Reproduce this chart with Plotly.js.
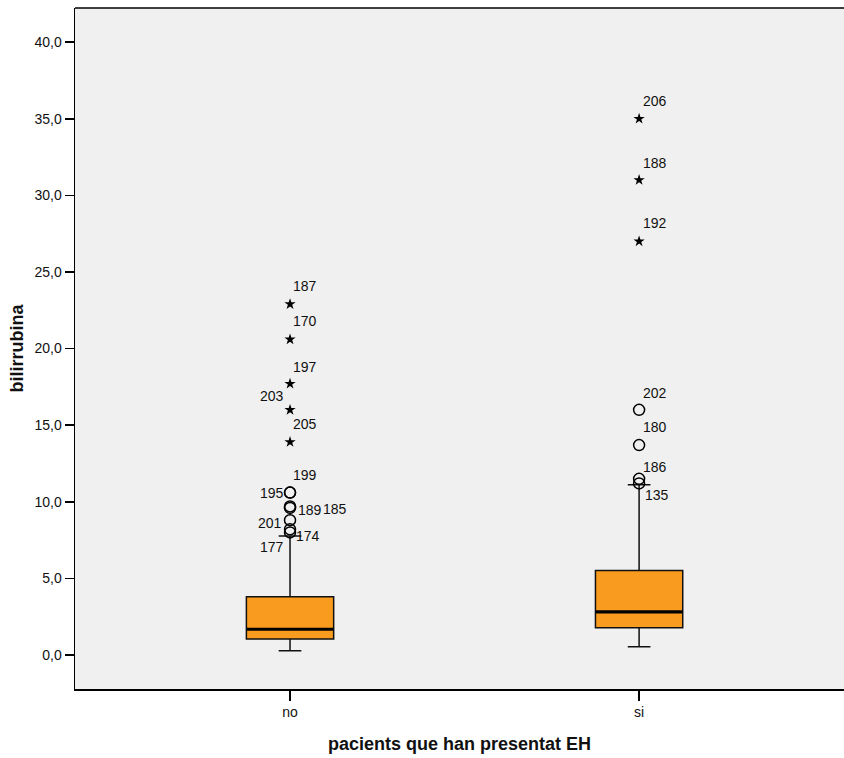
<!DOCTYPE html>
<html>
<head>
<meta charset="utf-8">
<script src="https://cdn.plot.ly/plotly-3.0.1.min.js"></script>
<style>html,body{margin:0;padding:0;overflow:hidden;background:#fff;}</style>
</head>
<body>
<div id="chart" style="width:844px;height:758px;"></div>
<script>
// Categories and box statistics
var categories = ["no", "si"];
var q1 = [1.04, 1.78];
var medians = [1.68, 2.81];
var q3 = [3.80, 5.52];
var lowerWhisker = [0.28, 0.54];
var upperWhisker = [7.76, 11.11];

// Outliers (circles) and extremes (stars)
var outCat = ["no", "no", "no", "no", "no", "no", "no", "si", "si", "si", "si"];
var outVal = [10.6, 10.6, 9.7, 9.6, 8.8, 8.2, 8.0, 16.0, 13.7, 11.5, 11.2];
var outLab = ["199", "195", "189", "185", "201", "174", "177", "202", "180", "186", "135"];

var extCat = ["no", "no", "no", "no", "no", "si", "si", "si"];
var extVal = [22.9, 20.6, 17.7, 16.0, 13.9, 35.0, 31.0, 27.0];
var extLab = ["187", "170", "197", "203", "205", "206", "188", "192"];

// Label offsets in pixels (style only)
var outOff = [[15, -18], [-18, 0], [20, 4], [45, 1], [-20, 3], [18, 7], [-18, 15], [16, -17], [16, -18], [16, -12], [18, 12]];
var extOff = [[15, -18], [15, -18], [15, -17], [-18, -14], [15, -18], [16, -18], [16, -17], [16, -18]];

var orange = "#F99B1E";
var boxWidth = 0.25;

var traces = [
  {
    type: "box",
    x: categories,
    q1: q1, median: medians, q3: q3,
    lowerfence: lowerWhisker, upperfence: upperWhisker,
    boxpoints: false,
    width: boxWidth,
    whiskerwidth: 0.26,
    fillcolor: orange,
    line: {color: "#111", width: 1.5},
    hoverinfo: "skip",
    showlegend: false
  },
  {
    type: "scatter", mode: "markers",
    x: outCat, y: outVal,
    marker: {symbol: "circle-open", size: 11, color: "#000", line: {width: 1.5, color: "#000"}},
    showlegend: false, hoverinfo: "skip"
  },
  {
    type: "scatter", mode: "markers",
    x: extCat, y: extVal,
    marker: {symbol: "star", size: 8.5, color: "#000", line: {width: 0}},
    showlegend: false, hoverinfo: "skip"
  }
];

var annotations = [];
function addLabels(cats, vals, labs, offs) {
  for (var i = 0; i < cats.length; i++) {
    annotations.push({
      xref: "x", yref: "y", x: cats[i], y: vals[i],
      text: labs[i], showarrow: false,
      xshift: offs[i][0], yshift: -offs[i][1],
      font: {family: "Liberation Sans, Arial, sans-serif", size: 14, color: "#111"}
    });
  }
}
addLabels(outCat, outVal, outLab, outOff);
addLabels(extCat, extVal, extLab, extOff);

var shapes = [
  {type: "line", xref: "paper", yref: "paper", x0: 0, x1: 1, y0: 1, y1: 1, line: {color: "#000", width: 1.5}}
];
for (var i = 0; i < categories.length; i++) {
  shapes.push({
    type: "line", xref: "x", yref: "y",
    x0: i - boxWidth / 2, x1: i + boxWidth / 2,
    y0: medians[i], y1: medians[i],
    line: {color: "#000", width: 3.2}
  });
}

var layout = {
  width: 844, height: 758,
  margin: {l: 75, r: 0, t: 8, b: 69},
  paper_bgcolor: "#ffffff",
  plot_bgcolor: "#F0F0F0",
  separators: ",.",
  font: {family: "Liberation Sans, Arial, sans-serif", color: "#111"},
  xaxis: {
    type: "category",
    range: [-0.616, 1.587],
    showgrid: false, zeroline: false,
    showline: true, linecolor: "#000", linewidth: 1.5,
    ticks: "outside", ticklen: 10, tickwidth: 1.5, tickcolor: "#000",
    tickfont: {size: 14, color: "#111"},
    title: {text: "pacients que han presentat EH", font: {size: 18, color: "#111", weight: "bold"}, standoff: 18}
  },
  yaxis: {
    range: [-2.22, 42.23],
    tickvals: [0, 5, 10, 15, 20, 25, 30, 35, 40],
    tickformat: ".1f",
    showgrid: false, zeroline: false,
    showline: true, linecolor: "#000", linewidth: 1.5,
    ticks: "outside", ticklen: 9, tickwidth: 1.5, tickcolor: "#000",
    tickfont: {size: 14, color: "#111"},
    title: {text: "bilirrubina", font: {size: 18, color: "#111", weight: "bold"}, standoff: 6}
  },
  shapes: shapes,
  annotations: annotations
};

Plotly.newPlot("chart", traces, layout, {displayModeBar: false, staticPlot: true});
</script>
</body>
</html>
